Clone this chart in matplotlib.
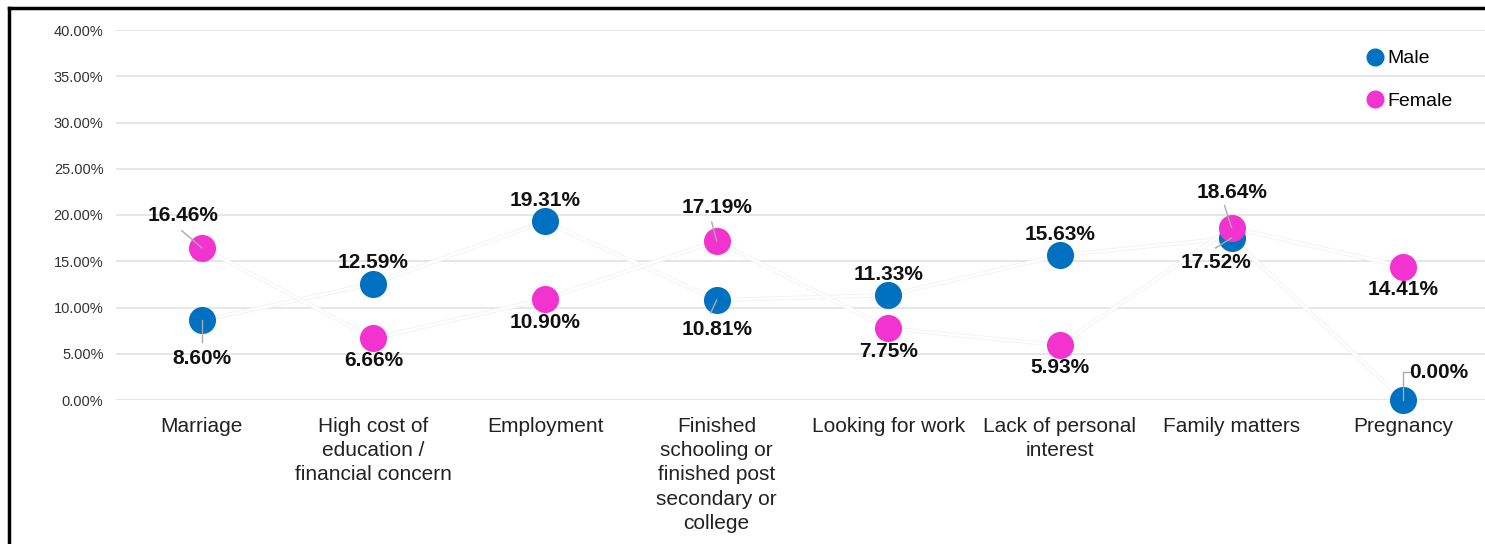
import matplotlib
matplotlib.use("Agg")
import matplotlib.pyplot as plt
from matplotlib.lines import Line2D
from matplotlib.transforms import ScaledTranslation
import matplotlib.patheffects as pe

plt.rcParams['font.family'] = ['Liberation Sans', 'DejaVu Sans']

categories = ["Marriage", "High cost of\neducation /\nfinancial concern", "Employment",
              "Finished\nschooling or\nfinished post\nsecondary or\ncollege",
              "Looking for work", "Lack of personal\ninterest", "Family matters", "Pregnancy"]
male = [8.60, 12.59, 19.31, 10.81, 11.33, 15.63, 17.52, 0.00]
female = [16.46, 6.66, 10.90, 17.19, 7.75, 5.93, 18.64, 14.41]
yticks = [0, 5, 10, 15, 20, 25, 30, 35, 40]

MALE_C = "#0070C0"
FEMALE_C = "#F233CF"

W, H = 1485, 544
fig = plt.figure(figsize=(W / 100, H / 100), dpi=100)
ax = fig.add_axes([116 / W, (H - 400) / H, (1489 - 116) / W, 370 / H])

x = list(range(len(categories)))
ax.set_xlim(-0.5, len(categories) - 0.5)
ax.set_ylim(0, 40)
ax.set_yticks(yticks)
ax.set_yticklabels([f"{v:.2f}%" for v in yticks], fontsize=10.5, color="#333333")
ax.set_xticks(x)
ax.set_xticklabels(categories, fontsize=15, color="#222222", linespacing=1.36)
ax.tick_params(axis="both", length=0)
ax.tick_params(axis="y", pad=9)
ax.tick_params(axis="x", pad=12)
for s in ax.spines.values():
    s.set_visible(False)
ax.grid(axis="y", color="#e2e2e2", lw=1.2, zorder=0)
ax.set_axisbelow(True)

# faint connecting lines between categories
halo = [pe.Stroke(linewidth=3.0, foreground="#f2f2f2"), pe.Normal()]
ax.plot(x, male, color="white", lw=1.8, zorder=2, clip_on=False, path_effects=halo)
ax.plot(x, female, color="white", lw=1.8, zorder=2, clip_on=False, path_effects=halo)

ax.scatter(x, male, s=380, color=MALE_C, zorder=3, clip_on=False, linewidths=0)
ax.scatter(x, female, s=380, color=FEMALE_C, zorder=4, clip_on=False, linewidths=0)

LEAD_C = "#aaaaaa"

# label offsets in pixels (dx, dy) from each point, and leader-line path in pixels (or None)
male_lab = [(0, -38, [(0, 0), (0, -22)]), (0, 21, None), (0, 21, None),
            (0, -29, [(0, 0), (-6, -13)]), (0, 21, None), (0, 21, None),
            (-16, -25, [(0, 0), (-16, -10)]), (35, 28, [(0, 0), (0, 28), (7, 28)])]
female_lab = [(-19, 32, [(0, 0), (-20, 17)]), (0, -22, None), (0, -23, None),
              (0, 33, [(0, 0), (-5, 19)]), (0, -23, None), (0, -22, None),
              (0, 35, [(0, 0), (-7, 22)]), (0, -23, None)]

def label(i, val, dx, dy, lead):
    ax.annotate(f"{val:.2f}%", (i, val), xytext=(dx, dy), textcoords="offset pixels",
                ha="center", va="center", fontsize=15, fontweight="bold",
                color="#111111", zorder=6, annotation_clip=False)
    if lead is None:
        return
    tr = ScaledTranslation(i, val, ax.transData)
    xs, ys = zip(*lead)
    ax.add_artist(Line2D(xs, ys, color=LEAD_C, lw=1, transform=tr, zorder=5,
                         clip_on=False))

for i in x:
    label(i, male[i], *male_lab[i])
    label(i, female[i], *female_lab[i])

handles = [Line2D([], [], marker="o", ls="", color=MALE_C, markersize=12, label="Male"),
           Line2D([], [], marker="o", ls="", color=FEMALE_C, markersize=12, label="Female")]
fig.legend(handles=handles, loc="upper left", bbox_to_anchor=(1356 / W, 1 - 42 / H),
           frameon=False, fontsize=14, handletextpad=0.0, labelspacing=1.3,
           borderaxespad=0, handlelength=1.2)

# frame lines along the top and left edges
fig.add_artist(Line2D([9 / W, 1], [1 - 8 / H, 1 - 8 / H], color="black", lw=2.5,
                      transform=fig.transFigure))
fig.add_artist(Line2D([9 / W, 9 / W], [0, 1 - 8 / H], color="black", lw=2.5,
                      transform=fig.transFigure))

fig.savefig("out.png", dpi=100)
